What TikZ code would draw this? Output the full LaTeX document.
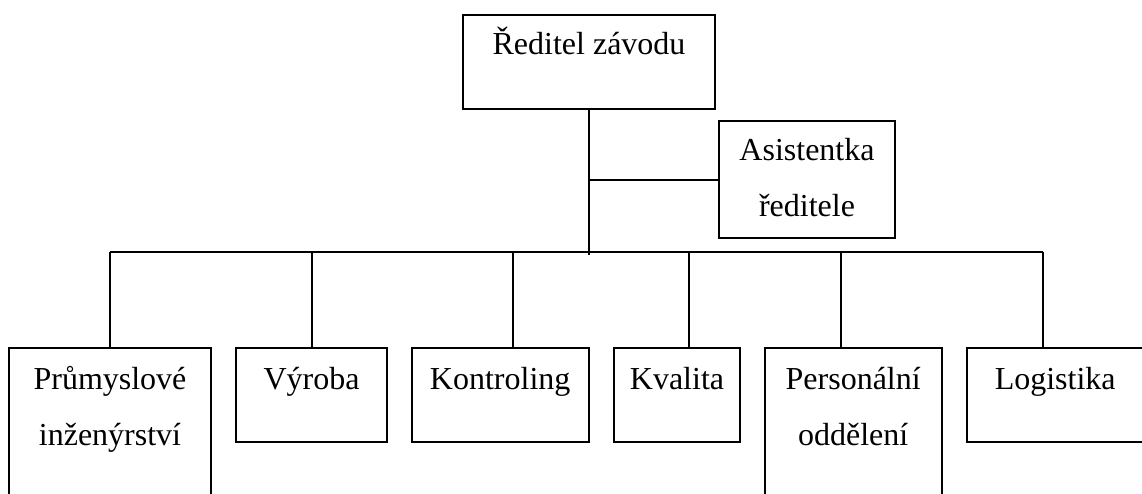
\documentclass[tikz,border=0pt]{standalone}
\usepackage{fontspec}
\setmainfont{Liberation Serif}
\tikzset{
  unit/.style={draw, line width=2pt, anchor=north west, inner sep=0pt, outer sep=0pt,
    align=center, text height=41pt, font=\fontsize{32}{56}\selectfont},
  link/.style={line width=2pt}
}
\begin{document}
\begin{tikzpicture}[x=1pt,y=-1pt]
    \useasboundingbox (0,0) rectangle (1142,494);
    \clip (0,0) rectangle (1142,494);
    \node[unit, minimum width=252pt, text height=40pt, text depth=54pt] (dir) at (463,15) {Ředitel závodu};
    \node[unit, minimum width=176pt, text height=96pt, text depth=21.3pt] (asist) at (719,121) {Asistentka\\ředitele};
    \foreach \n/\l/\w/\h/\d/\t in {
        prum/9/202/97/80/Průmyslové\\inženýrství,
        vyr/235.7/151.6/41/53/Výroba,
        kon/411.7/177/41/53/Kontroling,
        kval/613.7/126.6/41/53/Kvalita,
        pers/764.7/177/97/80/Personální\\oddělení,
        log/966.7/177/41/53/Logistika}{
            \node[unit, minimum width=\w pt, text height=\h pt, text depth=\d pt] (\n) at (\l,348) {\t};
    }
    % spoje
    \coordinate (bus) at (dir.south |- 0,252.3);
    \draw[link] (dir.south) -- ([yshift=-3pt]bus);
    \draw[link] (dir.south |- asist.west) -- (asist.west);
    \foreach \n/\x in {prum/110, vyr/311.7, kon/513.3, kval/689, pers/840.7, log/1042.7}{
        \coordinate (b-\n) at (\x,252.3);
        \draw[link] (b-\n) -- (b-\n |- \n.north);
    }
    \draw[link] (b-prum) -- (b-log);
\end{tikzpicture}
\end{document}
